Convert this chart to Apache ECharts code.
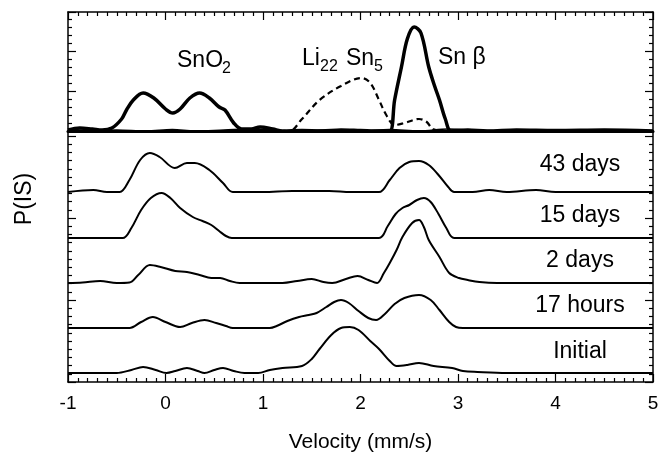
<!DOCTYPE html>
<html>
<head>
<meta charset="utf-8">
<script src="https://cdn.jsdelivr.net/npm/echarts@6/dist/echarts.min.js"></script>
<style>
  html, body { margin: 0; padding: 0; background: #fff; }
  #chart { width: 660px; height: 455px; }
</style>
</head>
<body>
<div id="chart"></div>
<script>
// 上面板: 拟合分量 [velocity, P]
const fitThick = [[-1, 1], [-0.88, 3], [-0.75, 2], [-0.65, 1], [-0.55, 3], [-0.45, 12], [-0.4, 21], [-0.33, 31],
  [-0.23, 38], [-0.12, 33], [0, 22], [0.075, 18], [0.15, 22], [0.25, 33], [0.35, 38], [0.45, 33], [0.55, 24],
  [0.61, 21], [0.7, 8], [0.78, 2], [0.88, 2], [0.97, 4], [1.1, 2], [1.2, 0], [1.4, 0.5], [1.6, 0], [1.8, 1],
  [2.0, 0.5], [2.2, 0], [2.3, 0], [2.35, 31], [2.42, 64], [2.48, 92], [2.55, 104], [2.62, 98], [2.7, 64],
  [2.76, 45], [2.81, 31], [2.87, 12], [2.93, 0], [3.1, 1], [3.3, 0], [3.6, 1], [4.0, 0.5], [4.5, 1], [5, 0]];
const fitDashed = [[0.8, 0], [0.9, 1], [1.0, 2], [1.1, 1], [1.27, 0], [1.4, 12], [1.58, 31], [1.8, 45],
  [2.01, 53], [2.1, 48], [2.19, 31], [2.27, 15], [2.35, 6], [2.45, 8], [2.6, 12], [2.68, 9], [2.74, 2], [2.85, 0]];
const fitThin = [[-1, 2], [-0.8, 0.5], [-0.5, 1], [-0.2, 0], [0.07, 1.5], [0.3, 0], [0.6, 1], [0.9, 2], [1.2, 0],
  [1.6, 1], [2.0, 0], [2.3, 1.5], [2.6, 0], [2.9, 2], [3.3, 0.5], [3.8, 1], [4.2, 0], [4.6, 1], [5, 0.5]];

// 下面板: 各时间点分布
const days43 = [[-1, 0], [-0.74, 2], [-0.6, 0], [-0.47, 0], [-0.37, 12], [-0.26, 32], [-0.16, 39], [-0.06, 35],
  [0.095, 24], [0.22, 29], [0.3, 29], [0.45, 22], [0.59, 9], [0.69, 0], [1.0, 0], [1.3, 1], [1.68, 1], [1.9, 0],
  [2.19, 0], [2.3, 12], [2.4, 24], [2.5, 30], [2.6, 31], [2.7, 27], [2.8, 17], [2.9, 5], [2.96, 0], [3.15, 0],
  [3.32, 2], [3.5, 0], [3.8, 2], [4.0, 0], [5, 0]];
const days15 = [[-1, 0], [-0.44, 0], [-0.35, 10], [-0.25, 28], [-0.15, 40], [-0.04, 45], [0.05, 40], [0.15, 30],
  [0.28, 21], [0.38, 17], [0.47, 13], [0.55, 7], [0.62, 2], [0.68, 0], [2.19, 0], [2.28, 12], [2.36, 24],
  [2.43, 30], [2.5, 33], [2.58, 38], [2.65, 40], [2.72, 36], [2.8, 24], [2.88, 10], [2.96, 0], [5, 0]];
const days2 = [[-1, 0], [-0.85, 0.5], [-0.67, 2], [-0.5, 0], [-0.37, 0.5], [-0.28, 8], [-0.16, 18], [-0.05, 16],
  [0.1, 12], [0.22, 11], [0.35, 8], [0.47, 5], [0.56, 5], [0.66, 2], [0.76, 0], [1.2, 0], [1.35, 2], [1.5, 4],
  [1.62, 1], [1.71, 0], [1.85, 4], [1.97, 7], [2.08, 3], [2.17, 0], [2.24, 10], [2.3, 20], [2.37, 33], [2.43, 46],
  [2.53, 60], [2.6, 63], [2.65, 56], [2.7, 43], [2.81, 26], [2.91, 10], [3.01, 5], [3.1, 3], [3.22, 1], [3.4, 0], [5, 0]];
const hours17 = [[-1, 0], [-0.37, 0], [-0.25, 6], [-0.13, 11], [0, 6], [0.15, 1], [0.27, 5], [0.4, 8], [0.52, 5],
  [0.62, 2], [0.69, 0], [1.07, 0], [1.14, 2], [1.25, 7], [1.37, 11], [1.47, 13], [1.55, 15], [1.65, 21], [1.73, 26],
  [1.8, 28], [1.88, 25], [1.98, 17], [2.08, 10], [2.16, 8], [2.25, 14], [2.35, 24], [2.45, 30], [2.6, 33],
  [2.72, 28], [2.81, 18], [2.91, 6], [2.98, 1], [3.05, 0], [5, 0]];
const initial = [[-1, 0], [-0.5, 0], [-0.35, 3], [-0.23, 6], [-0.1, 3], [0.01, 0], [0.1, 2], [0.22, 5], [0.33, 2],
  [0.4, 0], [0.5, 3], [0.59, 5], [0.7, 2], [0.81, 0], [0.95, 0], [1.07, 3], [1.2, 5], [1.4, 7], [1.5, 14],
  [1.58, 24], [1.7, 38], [1.8, 45], [1.89, 46], [1.98, 43], [2.1, 32], [2.19, 24], [2.3, 12], [2.37, 7], [2.48, 8],
  [2.6, 10], [2.75, 7], [2.94, 5], [3.05, 2], [3.2, 1], [3.5, 0], [5, 0]];

const spectra = [days43, days15, days2, hours17, initial];
const spectraNames = ['43 days', '15 days', '2 days', '17 hours', 'Initial'];
const offsets = [190, 144, 99, 54, 9];
const xTicks = [-1, 0, 1, 2, 3, 4, 5];

const FONT = "'Liberation Sans', Arial, sans-serif";
const chart = echarts.init(document.getElementById('chart'));

const tickStyle = { color: '#000', width: 1.2 };
const frameAxis = (extra, split) => Object.assign({
  type: 'value',
  axisLine: { show: true, onZero: false, lineStyle: { color: '#000', width: 1.5 } },
  axisTick: { show: true, inside: true, length: 8, lineStyle: tickStyle },
  minorTick: { show: split > 0, splitNumber: split || 5, length: 4, lineStyle: tickStyle },
  axisLabel: { show: false },
  splitLine: { show: false }
}, extra);

const series = [
  { data: fitThin, lineStyle: { width: 1.5 } },
  { data: fitDashed, lineStyle: { width: 2.2, type: [6, 4] } },
  { data: fitThick, lineStyle: { width: 3.5 } }
].map(s => ({
  type: 'line', xAxisIndex: 0, yAxisIndex: 0, showSymbol: false, smooth: 0.35, silent: true,
  data: s.data, lineStyle: Object.assign({ color: '#000' }, s.lineStyle)
}));

spectra.forEach((pts, i) => {
  series.push({
    type: 'line', name: spectraNames[i], xAxisIndex: 2, yAxisIndex: 2,
    showSymbol: false, smooth: 0.35, silent: true,
    data: pts.map(p => [p[0], p[1] + offsets[i]]),
    lineStyle: { color: '#000', width: 2 }
  });
});

const labelY = [165, 216, 261, 306, 352];
const txt = (text, x, y, size, align) => ({
  type: 'text', x: x, y: y,
  style: { text: text, fontSize: size, fontFamily: FONT, fill: '#000',
    textAlign: align || 'left', textVerticalAlign: 'middle' }
});

const graphics = [
  Object.assign(txt('P(IS)', 25, 199, 23, 'center'), { rotation: Math.PI / 2 }),
  txt('SnO', 177, 61, 23), txt('2', 222, 69, 16),
  txt('Li', 302, 59, 23), txt('22', 320, 67, 16), txt('Sn', 346, 59, 23), txt('5', 374, 67, 16),
  txt('Sn β', 438, 58, 23)
];
spectraNames.forEach((n, i) => graphics.push(txt(n, 580, labelY[i], 23, 'center')));

chart.setOption({
  animation: false,
  grid: [
    { left: 68, right: 7, top: 12, height: 119, outerBoundsMode: 'none' },
    { left: 68, right: 7, top: 131, height: 251, outerBoundsMode: 'none' }
  ],
  xAxis: [
    frameAxis({ gridIndex: 0, position: 'top', min: -1, max: 5, interval: 1 }, 10),
    frameAxis({ gridIndex: 0, position: 'bottom', min: -1, max: 5,
      axisLine: { show: true, onZero: false, lineStyle: { color: '#000', width: 3 } }, axisTick: { show: false } }, 0),
    frameAxis({
      gridIndex: 1, position: 'bottom', min: -1, max: 5, interval: 1,
      axisLabel: { show: true, fontSize: 19, fontFamily: FONT, color: '#000', margin: 12,
        formatter: v => xTicks.indexOf(v) >= 0 ? String(v) : '' },
      name: 'Velocity (mm/s)', nameLocation: 'middle', nameGap: 50,
      nameTextStyle: { fontSize: 21, fontFamily: FONT, color: '#000' }
    }, 10)
  ],
  yAxis: [
    frameAxis({ gridIndex: 0, position: 'left', min: 0, max: 119, interval: 40 }, 5),
    frameAxis({ gridIndex: 0, position: 'right', min: 0, max: 119, interval: 40 }, 5),
    frameAxis({ gridIndex: 1, position: 'left', min: 0, max: 251, interval: 82 }, 10),
    frameAxis({ gridIndex: 1, position: 'right', min: 0, max: 251, interval: 82 }, 10)
  ],
  series: series,
  graphic: graphics
});
</script>
</body>
</html>
